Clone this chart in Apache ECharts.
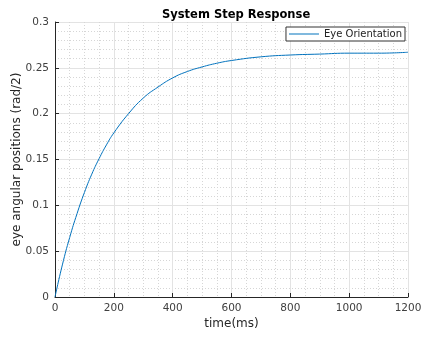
<!DOCTYPE html>
<html>
<head>
<meta charset="utf-8">
<script src="https://cdn.jsdelivr.net/npm/echarts@6/dist/echarts.min.js"></script>
<style>
  html, body { margin: 0; padding: 0; background: #fff; }
  #chart { width: 422px; height: 337px; }
</style>
</head>
<body>
<div id="chart"></div>
<script>
  // step response samples (time in ms, position in rad/2)
  const timeMs = [0, 25, 50, 75, 100, 125, 150, 175, 200, 250, 300, 350, 400, 450,
    500, 550, 600, 700, 800, 900, 1000, 1100, 1200]
  const eyePos = [0, 0.035, 0.065, 0.091, 0.114, 0.134, 0.151, 0.166, 0.179, 0.200,
    0.217, 0.229, 0.239, 0.246, 0.251, 0.255, 0.258, 0.262, 0.264, 0.265, 0.266, 0.266, 0.267]
  const seriesName = 'Eye Orientation'

  const chart = echarts.init(document.getElementById('chart'))
  const font = 'DejaVu Sans'

  chart.setOption({
    animation: false,
    textStyle: { fontFamily: font },
    title: {
      text: 'System Step Response',
      left: 157,
      top: 4,
      textStyle: { fontSize: 11.5, fontWeight: 'bold', color: '#000', fontFamily: font }
    },
    legend: {
      data: [seriesName],
      right: 17,
      top: 27,
      icon: 'rect',
      itemWidth: 30,
      itemHeight: 1,
      itemGap: 4,
      padding: [2, 3, 2, 3],
      borderColor: '#333',
      borderWidth: 1,
      borderRadius: 0,
      backgroundColor: '#fff',
      textStyle: { fontSize: 10, color: '#222', fontFamily: font }
    },
    grid: { left: 55, right: 14, top: 22, bottom: 40, outerBoundsMode: 'none' },
    xAxis: {
      type: 'value',
      min: 0,
      max: 1200,
      interval: 200,
      name: 'time(ms)',
      nameLocation: 'middle',
      nameGap: 21,
      nameMoveOverlap: false,
      nameTextStyle: { fontSize: 12, color: '#262626' },
      axisLine: { lineStyle: { color: '#262626' } },
      axisTick: { inside: true, length: 4, lineStyle: { color: '#262626' } },
      axisLabel: { fontSize: 10.5, color: '#404040', margin: 6, formatter: v => String(v) },
      splitLine: { show: true, lineStyle: { color: '#e3e3e3' } },
      minorTick: { show: false, splitNumber: 4 },
      minorSplitLine: { show: true, lineStyle: { color: '#d6d6d6', type: [1, 2] } }
    },
    yAxis: {
      type: 'value',
      min: 0,
      max: 0.3,
      interval: 0.05,
      name: 'eye angular positions (rad/2)',
      nameLocation: 'middle',
      nameGap: 32,
      nameMoveOverlap: false,
      nameTextStyle: { fontSize: 12, color: '#262626' },
      axisLine: { show: true, lineStyle: { color: '#262626' } },
      axisTick: { show: true, inside: true, length: 4, lineStyle: { color: '#262626' } },
      axisLabel: { fontSize: 10.5, color: '#404040', margin: 6 },
      splitLine: { show: true, lineStyle: { color: '#e3e3e3' } },
      minorTick: { show: false, splitNumber: 5 },
      minorSplitLine: { show: true, lineStyle: { color: '#d6d6d6', type: [1, 2] } }
    },
    series: [{
      name: seriesName,
      type: 'line',
      data: timeMs.map((t, i) => [t, eyePos[i]]),
      smooth: true,
      showSymbol: false,
      lineStyle: { color: '#0072BD', width: 1 },
      itemStyle: { color: '#0072BD' }
    }]
  })
</script>
</body>
</html>
